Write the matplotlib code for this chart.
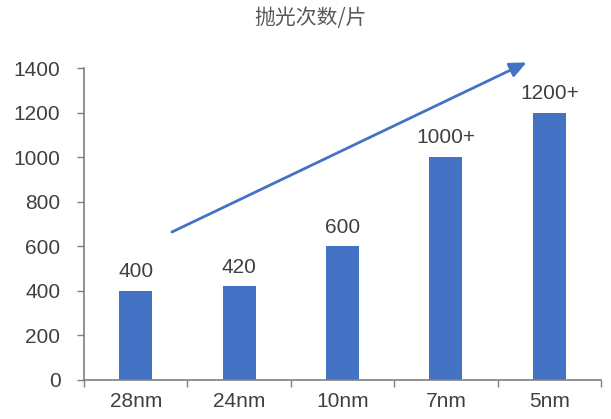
import matplotlib.pyplot as plt
import numpy as np

plt.rcParams['font.family'] = ['Liberation Sans', 'Noto Sans CJK SC', 'DejaVu Sans']

# 各制程节点的抛光次数
nodes = ['28nm', '24nm', '10nm', '7nm', '5nm']
counts = [400, 420, 600, 1000, 1200]
labels = ['400', '420', '600', '1000+', '1200+']
yticks = [0, 200, 400, 600, 800, 1000, 1200, 1400]

bar_color = '#4472C4'
text_color = '#404040'
axis_color = '#7F7F7F'

fig = plt.figure(figsize=(6.11, 4.19), dpi=100)
ax = fig.add_axes([0.1375, 0.0931, 0.8461, 0.7446])

x = np.arange(len(nodes))
ax.bar(x, counts, width=0.32, color=bar_color)

for i in range(len(nodes)):
    ax.annotate(labels[i], (x[i], counts[i]), xytext=(0, 7), textcoords='offset points',
                ha='center', va='bottom', fontsize=15, color=text_color)

ax.set_xlim(-0.5, len(nodes) - 0.5)
ax.set_ylim(0, 1400)
ax.set_yticks(yticks)
ax.set_xticks(x)
ax.set_xticklabels(nodes)
ax.set_xticks(np.arange(-0.5, len(nodes)), minor=True)

ax.tick_params(axis='y', direction='out', length=5, width=1, color=axis_color,
               labelsize=15, labelcolor=text_color, pad=12)
ax.tick_params(axis='x', which='major', length=0, labelsize=15, labelcolor=text_color, pad=9)
ax.tick_params(axis='x', which='minor', direction='out', length=5, width=1, color=axis_color)

for side in ['top', 'right']:
    ax.spines[side].set_visible(False)
ax.spines['left'].set_color(axis_color)
ax.spines['bottom'].set_color(axis_color)
ax.spines['left'].set_linewidth(1.2)
ax.spines['bottom'].set_linewidth(1.2)

# 趋势箭头
ax.annotate('', xy=(3.78, 1425), xytext=(0.35, 664), annotation_clip=False,
            arrowprops=dict(arrowstyle='-|>,head_length=1.0,head_width=0.45',
                            color=bar_color, lw=2, shrinkA=0, shrinkB=0))

fig.text(0.508, 0.957, '抛光次数/片', ha='center', va='center', fontsize=15,
         color='#595959', family=['Noto Sans CJK SC', 'DejaVu Sans'])

plt.savefig('out.png', dpi=100)
